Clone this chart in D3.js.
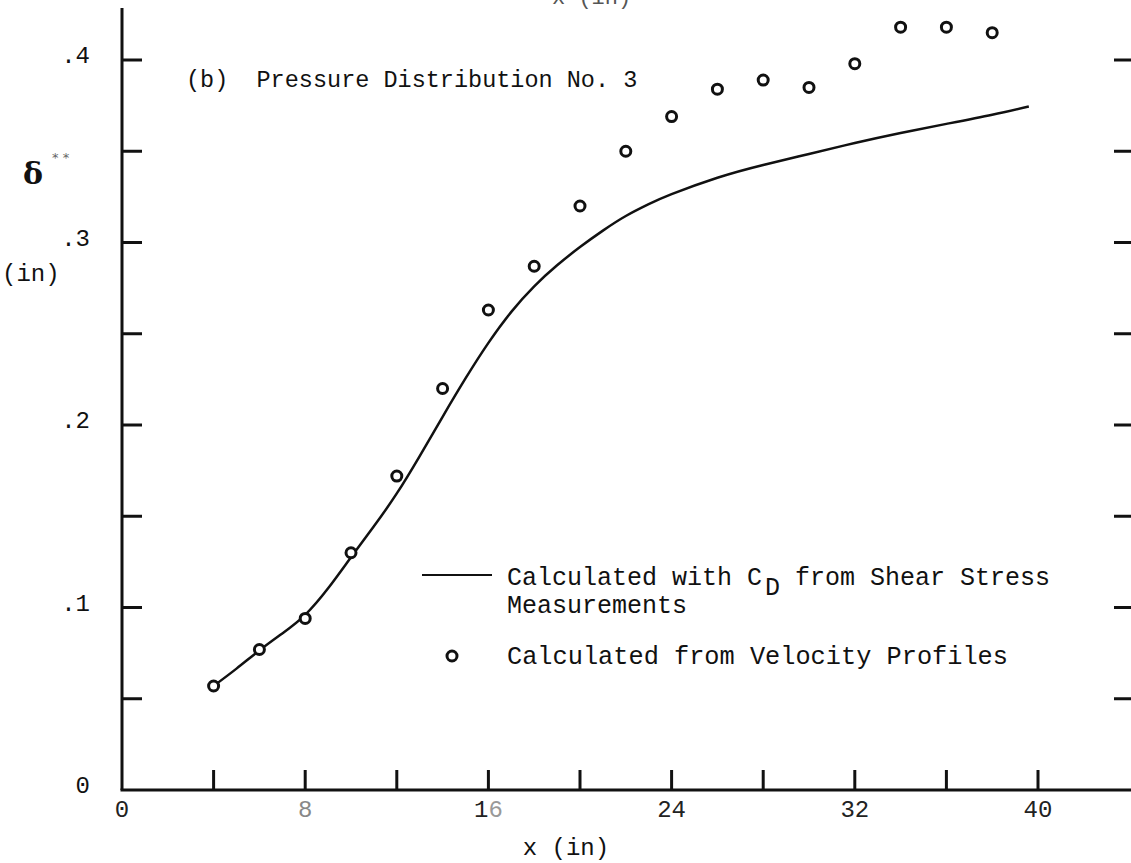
<!DOCTYPE html>
<html>
<head>
<meta charset="utf-8">
<script src="https://cdn.jsdelivr.net/npm/d3@7"></script>
<style>
  html, body { margin: 0; padding: 0; background: #fff; }
  svg { display: block; }
  text { font-family: "Liberation Mono", "Courier New", monospace; fill: #111; }
</style>
</head>
<body>
<svg id="chart" width="1131" height="863"></svg>
<script>
// ---- data ----
const pointX = [4, 6, 8, 10, 12, 14, 16, 18, 20, 22, 24, 26, 28, 30, 32, 34, 36, 38];
const pointY = [0.057, 0.077, 0.094, 0.130, 0.172, 0.220, 0.263, 0.287, 0.320, 0.350, 0.369, 0.384, 0.389, 0.385, 0.398, 0.418, 0.418, 0.415];

const lineX = [4, 5, 6, 7, 8, 9, 10, 11, 12, 13, 14, 15, 16, 17, 18, 19, 20, 21, 22, 23, 24, 26, 28, 30, 32, 34, 36, 38, 39.6];
const lineY = [0.057, 0.0665, 0.0765, 0.0858, 0.0960, 0.1105, 0.1275, 0.1445, 0.1625, 0.1830, 0.2045, 0.2255, 0.2450, 0.2620, 0.2760, 0.2875, 0.2975, 0.3065, 0.3145, 0.3210, 0.3265, 0.3355, 0.3425, 0.3485, 0.3545, 0.3600, 0.3650, 0.3700, 0.3745];

const xTickLabels = ["0", "8", "16", "24", "32", "40"];
const xTickLabelValues = [0, 8, 16, 24, 32, 40];
const xTickMarks = [4, 8, 12, 16, 20, 24, 28, 32, 36, 40];
const yTickLabels = ["0", ".1", ".2", ".3", ".4"];
const yTickLabelValues = [0, 0.1, 0.2, 0.3, 0.4];
const yTickMarks = [0.05, 0.1, 0.15, 0.2, 0.25, 0.3, 0.35, 0.4];

const titleText = "(b)  Pressure Distribution No. 3";
const legendLine = ["Calculated with C", "D", " from Shear Stress"];
const legendLine2 = "Measurements";
const legendCircle = "Calculated from Velocity Profiles";

// ---- layout ----
const svg = d3.select("#chart");
const x = d3.scaleLinear().domain([0, 40]).range([122, 1038]);
const y = d3.scaleLinear().domain([0, 0.4]).range([790, 60]);

svg.append("rect").attr("width", 1131).attr("height", 863).attr("fill", "#fff");

// Axis lines
svg.append("line").attr("x1", x(0)).attr("x2", x(0)).attr("y1", 8).attr("y2", y(0))
  .attr("stroke", "#111").attr("stroke-width", 3);
svg.append("line").attr("x1", x(0) - 1.5).attr("x2", 1131).attr("y1", y(0)).attr("y2", y(0))
  .attr("stroke", "#111").attr("stroke-width", 3);

// Bottom ticks (inward, upward)
svg.append("g").selectAll("line").data(xTickMarks).join("line")
  .attr("x1", d => x(d)).attr("x2", d => x(d))
  .attr("y1", y(0)).attr("y2", y(0) - 20)
  .attr("stroke", "#111").attr("stroke-width", 3);

// Left ticks (inward)
svg.append("g").selectAll("line").data(yTickMarks).join("line")
  .attr("x1", x(0)).attr("x2", x(0) + 20)
  .attr("y1", d => y(d)).attr("y2", d => y(d))
  .attr("stroke", "#111").attr("stroke-width", 3);

// Right ticks
svg.append("g").selectAll("line").data(yTickMarks).join("line")
  .attr("x1", 1114).attr("x2", 1131)
  .attr("y1", d => y(d)).attr("y2", d => y(d))
  .attr("stroke", "#111").attr("stroke-width", 3);

// X tick labels
const xl = svg.append("g").selectAll("text").data(xTickLabelValues).join("text")
  .attr("x", d => x(d)).attr("y", y(0) + 27)
  .attr("text-anchor", "middle")
  .attr("font-size", 24)
  .style("fill", (d, i) => i === 1 ? "#888" : "#222");
xl.each(function (d, i) {
  const t = d3.select(this);
  if (i === 2) {
    t.append("tspan").text(xTickLabels[i][0]);
    t.append("tspan").style("fill", "#999").text(xTickLabels[i][1]);
  } else {
    t.text(xTickLabels[i]);
  }
});

// Y tick labels
svg.append("g").selectAll("text").data(yTickLabelValues).join("text")
  .attr("x", 90).attr("y", d => y(d) + 3)
  .attr("text-anchor", "end")
  .attr("font-size", 24)
  .text((d, i) => yTickLabels[i]);

// Axis titles
svg.append("text").attr("x", x(17.5)).attr("y", 855).attr("font-size", 24).text("x (in)");
svg.append("text").attr("x", 2).attr("y", 281).attr("font-size", 24).text("(in)");
svg.append("text").attr("x", 23).attr("y", 184)
  .style("font-family", "'DejaVu Serif', serif").style("font-weight", "bold")
  .attr("font-size", 30).text("δ");
svg.append("text").attr("x", 52).attr("y", 162)
  .style("font-family", "'DejaVu Sans', sans-serif").style("fill", "#666")
  .attr("font-size", 13).text("* *");
// label of the panel above, cut off at the top edge
svg.append("text").attr("x", 552).attr("y", 4).attr("font-size", 22).style("fill", "#555").text("x (in)");

// Title
svg.append("text").attr("x", 186).attr("y", 87).attr("font-size", 23.5)
  .style("white-space", "pre").text(titleText);

// Curve
const line = d3.line().x(d => x(d[0])).y(d => y(d[1])).curve(d3.curveNatural);
svg.append("path").datum(lineX.map((v, i) => [v, lineY[i]]))
  .attr("d", line).attr("fill", "none").attr("stroke", "#111").attr("stroke-width", 2.5);

// Points
svg.append("g").selectAll("circle").data(pointX.map((v, i) => [v, pointY[i]])).join("circle")
  .attr("cx", d => x(d[0])).attr("cy", d => y(d[1])).attr("r", 5)
  .attr("fill", "#fff").attr("stroke", "#111").attr("stroke-width", 3);

// Legend
svg.append("line").attr("x1", 422).attr("x2", 492).attr("y1", 575).attr("y2", 575)
  .attr("stroke", "#111").attr("stroke-width", 2);
const lt = svg.append("text").attr("x", 507).attr("y", 585).attr("font-size", 25).style("white-space", "pre");
lt.append("tspan").text(legendLine[0]);
lt.append("tspan").attr("dx", 3).attr("dy", 10).text(legendLine[1]);
lt.append("tspan").attr("dy", -10).text(legendLine[2]);
svg.append("text").attr("x", 507).attr("y", 613).attr("font-size", 25).text(legendLine2);
svg.append("circle").attr("cx", 452).attr("cy", 656).attr("r", 5)
  .attr("fill", "#fff").attr("stroke", "#111").attr("stroke-width", 3);
svg.append("text").attr("x", 507).attr("y", 664).attr("font-size", 25.3).text(legendCircle);
</script>
</body>
</html>
